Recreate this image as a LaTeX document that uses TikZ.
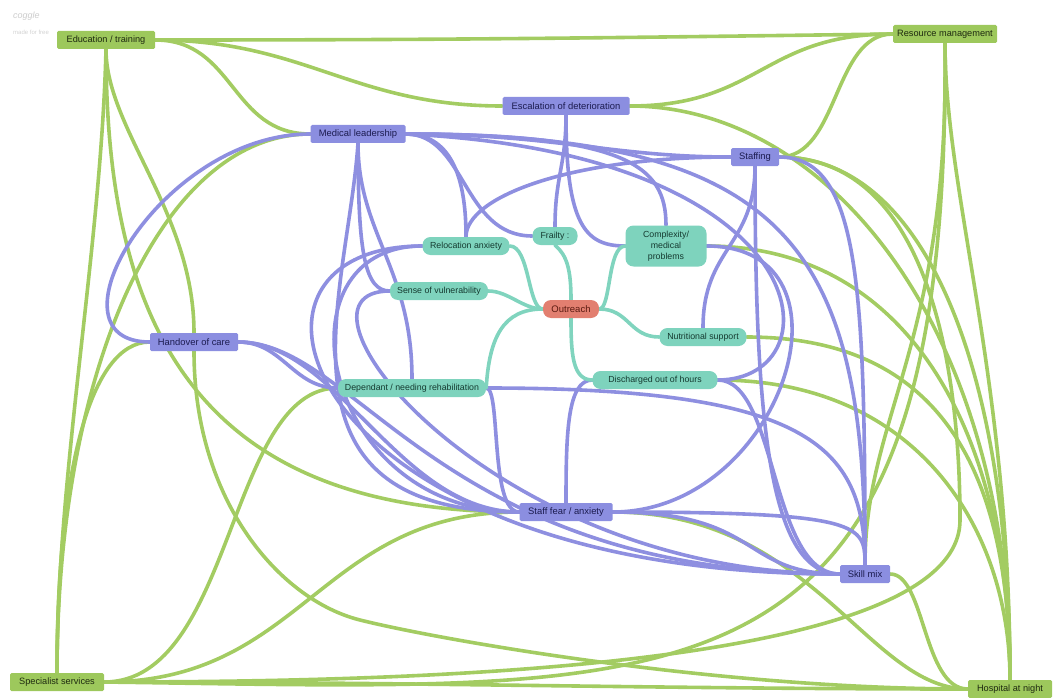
\documentclass[tikz,border=0pt]{standalone}
\usepackage{fontspec}
\setmainfont{Liberation Sans}
\pgfdeclarelayer{edges}
\pgfsetlayers{edges,main}
\definecolor{gline}{HTML}{A3CC62}
\definecolor{gfill}{HTML}{9DC85C}
\definecolor{gtext}{HTML}{1E2A10}
\definecolor{pline}{HTML}{8E8FE0}
\definecolor{pfill}{HTML}{8B8EE0}
\definecolor{ptext}{HTML}{1C1C50}
\definecolor{tline}{HTML}{80D4BE}
\definecolor{tfill}{HTML}{7ED3BD}
\definecolor{ttext}{HTML}{153A30}
\definecolor{ofill}{HTML}{E27F70}
\definecolor{otext}{HTML}{5A1A10}
\tikzset{
  box/.style={minimum height=18pt, inner xsep=2pt, inner ysep=2pt},
  gnode/.style={box, font=\fontsize{9.2}{11}\selectfont, fill=gfill, text=gtext, rounded corners=1.5pt},
  pnode/.style={box, font=\fontsize{9.4}{11}\selectfont, fill=pfill, text=ptext, rounded corners=1.5pt},
  tnode/.style={box, font=\fontsize{8.8}{10}\selectfont, fill=tfill, text=ttext, rounded corners=8pt},
  onode/.style={box, font=\fontsize{9.5}{11}\selectfont, fill=ofill, text=otext, rounded corners=8pt},
  gedge/.style={draw=gline, line width=3.6pt, line cap=round},
  pedge/.style={draw=pline, line width=3.6pt, line cap=round},
  tedge/.style={draw=tline, line width=3.6pt, line cap=round},
}
\begin{document}
\begin{tikzpicture}[x=1pt,y=-1pt]
\useasboundingbox (0,0) rectangle (1057,698);
% watermark
\node[text=gray!40, font=\itshape\fontsize{9}{9}\selectfont, anchor=west, inner sep=0pt] (wm1) at (13,16) {coggle};
\node[text=gray!35, font=\fontsize{6}{6}\selectfont, anchor=west, inner sep=0pt] (wm2) at (13,32) {made for free};
% nodes
\node[gnode, minimum width=98pt] (edu) at (106,40) {Education / training};
\node[gnode, minimum width=104pt] (res) at (945,34) {Resource management};
\node[gnode, minimum width=94pt] (spec) at (57,682) {Specialist services};
\node[gnode, minimum width=84pt] (hosp) at (1010,689) {Hospital at night};
\node[pnode, minimum width=127pt] (esc) at (566,106) {Escalation of deterioration};
\node[pnode, minimum width=95pt] (med) at (358,134) {Medical leadership};
\node[pnode, minimum width=48pt] (stf) at (755,157) {Staffing};
\node[pnode, minimum width=88pt] (hov) at (194,342) {Handover of care};
\node[pnode, minimum width=93pt] (fear) at (566,512) {Staff fear / anxiety};
\node[pnode, minimum width=50pt] (skill) at (865,574) {Skill mix};
\node[tnode, minimum width=45pt] (fra) at (555,236) {Frailty :};
\node[tnode, minimum width=87pt] (rel) at (466,246) {Relocation anxiety};
\node[tnode, minimum width=81pt, minimum height=41pt, align=center, font=\fontsize{8.8}{10.8}\selectfont] (cpx) at (666,246) {Complexity/\\medical\\problems};
\node[tnode, minimum width=98pt] (sen) at (439,291) {Sense of vulnerability};
\node[onode, minimum width=56pt] (out) at (571,309) {Outreach};
\node[tnode, minimum width=87pt] (nut) at (703,337) {Nutritional support};
\node[tnode, minimum width=148pt] (dep) at (412,388) {Dependant / needing rehabilitation};
\node[tnode, minimum width=125pt] (dis) at (655,380) {Discharged out of hours};
\coordinate (v1) at (360,620);
\coordinate (v2) at (960,520);
\begin{pgfonlayer}{edges}
% green connectors
\draw[gedge] (edu.east) .. controls +(300,0) and +(-300,4) .. (res.west);
\draw[gedge] (edu.east) .. controls +(80,0) and +(-80,0) .. (med.west);
\draw[gedge] (edu.east) .. controls +(150,0) and +(-150,0) .. (esc.west);
\draw[gedge] (res.west) .. controls +(-130,0) and +(130,0) .. (esc.east);
\draw[gedge] (res.west) .. controls +(-60,0) and +(60,0) .. (stf.east);
\draw[gedge] (esc.east) .. controls +(200,0) and +(0,-350) .. (hosp.north);
\draw[gedge] (stf.east) .. controls +(150,0) and +(0,-300) .. (hosp.north);
\draw[gedge] (res.south) .. controls +(0,150) and +(0,-300) .. (hosp.north);
\draw[gedge] (res.south) .. controls +(5,300) and +(0,-150) .. (skill.north);
\draw[gedge] (cpx.east) .. controls +(200,0) and +(0,-250) .. (hosp.north);
\draw[gedge] (nut.east) .. controls +(200,0) and +(0,-200) .. (hosp.north);
\draw[gedge] (dis.east) .. controls +(200,0) and +(0,-150) .. (hosp.north);
\draw[gedge] (fear.east) .. controls +(200,0) and +(-100,0) .. (hosp.west);
\draw[gedge] (skill.east) .. controls +(35,0) and +(-45,0) .. (hosp.west);
\draw[gedge] (spec.east) .. controls +(300,0) and +(-300,0) .. (hosp.west);
\draw[gedge] (spec.east) .. controls +(130,0) and +(-110,0) .. (dep.west);
\draw[gedge] (spec.east) .. controls +(200,0) and +(-200,0) .. (fear.west);
\draw[gedge] (edu.south) .. controls +(-5,200) and +(0,-200) .. (spec.north);
\draw[gedge] (edu.south) .. controls +(0,80) and +(0,-120) .. (hov.north);
\draw[gedge] (hov.south) .. controls +(0,150) and +(-80,-20) .. (v1) .. controls +(80,20) and +(-250,0) .. (hosp.west);
\draw[gedge] (edu.south) .. controls +(0,280) and +(-320,0) .. (fear.west);
\draw[gedge] (med.west) .. controls +(-150,0) and +(0,-300) .. (spec.north);
\draw[gedge] (hov.west) .. controls +(-60,0) and +(0,-200) .. (spec.north);
\draw[gedge] (res.south) .. controls +(5,680) and +(600,8) .. (spec.east);
\draw[gedge] (stf.east) .. controls +(150,0) and +(0,-150) .. (v2) .. controls +(0,150) and +(300,0) .. (spec.east);
% purple connectors
\draw[pedge] (med.west) .. controls +(-150,0) and +(-110,0) .. (hov.west);
\draw[pedge] (med.east) .. controls +(380,0) and +(0,-320) .. (skill.north);
\draw[pedge] (med.east) .. controls +(420,20) and +(120,0) .. (dis.east);
\draw[pedge] (med.east) .. controls +(220,0) and +(0,-60) .. (cpx.north);
\draw[pedge] (med.east) .. controls +(60,0) and +(-70,0) .. (fra.west);
\draw[pedge] (med.east) .. controls +(150,0) and +(-120,0) .. (stf.west);
\draw[pedge] (med.east) .. controls +(50,0) and +(0,-50) .. (rel.north);
\draw[pedge] (med.south) .. controls +(0,110) and +(-25,0) .. (sen.west);
\draw[pedge] (med.south) .. controls +(0,90) and +(0,-110) .. (dep.north);
\draw[pedge] (med.south) .. controls +(-10,150) and +(-260,0) .. (fear.west);
\draw[pedge] (rel.west) .. controls +(-150,0) and +(-200,0) .. (fear.west);
\draw[pedge] (rel.north) .. controls +(0,-40) and +(-160,0) .. (stf.west);
\draw[pedge] (rel.west) .. controls +(-223,0) and +(-540,0) .. (skill.west);
\draw[pedge] (hov.east) .. controls +(45,0) and +(-45,0) .. (dep.west);
\draw[pedge] (hov.east) .. controls +(120,0) and +(-400,0) .. (skill.west);
\draw[pedge] (hov.east) .. controls +(100,0) and +(-120,0) .. (fear.west);
\draw[pedge] (dep.east) .. controls +(15,0) and +(-30,0) .. (fear.west);
\draw[pedge] (dep.east) .. controls +(320,0) and +(0,-120) .. (skill.north);
\draw[pedge] (stf.east) .. controls +(80,0) and +(0,-280) .. (skill.north);
\draw[pedge] (stf.south) .. controls +(0,260) and +(-70,0) .. (skill.west);
\draw[pedge] (nut.north) .. controls +(0,-80) and +(0,80) .. (stf.south);
\draw[pedge] (esc.south) .. controls +(0,50) and +(0,-50) .. (fra.north);
\draw[pedge] (esc.south) .. controls +(0,110) and +(-40,0) .. (cpx.west);
\draw[pedge] (cpx.east) .. controls +(160,0) and +(170,0) .. (fear.east);
\draw[pedge] (dis.west) .. controls +(-25,0) and +(0,-70) .. (fear.north);
\draw[pedge] (dis.east) .. controls +(60,0) and +(-70,0) .. (skill.west);
\draw[pedge] (fear.east) .. controls +(250,0) and +(0,-40) .. (skill.north);
\draw[pedge] (fear.east) .. controls +(150,0) and +(-100,0) .. (skill.west);
\draw[pedge] (sen.west) .. controls +(-120,0) and +(-350,0) .. (skill.west);
% teal connectors
\draw[tedge] (out.west) .. controls +(-15,0) and +(20,0) .. (rel.east);
\draw[tedge] (out.west) .. controls +(-20,0) and +(20,0) .. (sen.east);
\draw[tedge] (out.west) .. controls +(-40,0) and +(3,-50) .. (dep.east);
\draw[tedge] (out.north) .. controls +(0,-30) and +(12,10) .. (fra.south);
\draw[tedge] (out.east) .. controls +(12,0) and +(-18,0) .. (cpx.west);
\draw[tedge] (out.east) .. controls +(30,0) and +(-30,0) .. (nut.west);
\draw[tedge] (out.south) .. controls +(0,35) and +(-20,0) .. (dis.west);
\end{pgfonlayer}
\end{tikzpicture}
\end{document}
